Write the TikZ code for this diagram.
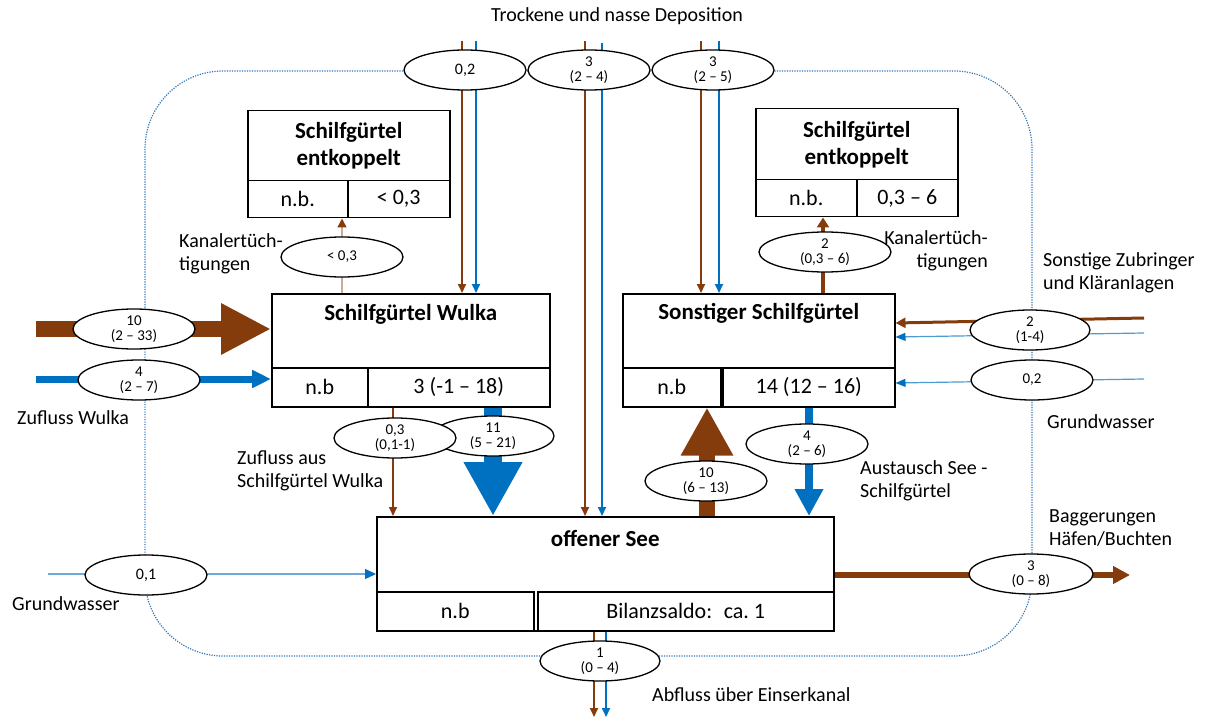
\documentclass[tikz,border=0pt]{standalone}
\usepackage{fontspec}
\setmainfont{Carlito}
\usetikzlibrary{arrows.meta,shapes.geometric,calc}
\definecolor{brownc}{RGB}{132,60,12}
\definecolor{bluec}{RGB}{0,112,192}
\definecolor{lightbluec}{RGB}{112,168,220}
\definecolor{tanc}{RGB}{205,170,145}
\definecolor{dotc}{RGB}{46,117,182}
\begin{document}
\begin{tikzpicture}[x=1pt,y=-1pt,
  box/.style={draw, line width=1.5pt, inner sep=0pt, anchor=north west},
  cell/.style={box, font=\fontsize{22}{26}\selectfont},
  ttl/.style={font=\bfseries\fontsize{23}{27}\selectfont, align=center, inner sep=0pt},
  ell/.style={draw, ellipse, fill=white, line width=1.3pt, minimum width=122pt,
    minimum height=40pt, inner sep=0pt, align=center, font=\fontsize{15}{15}\selectfont},
  lbl/.style={font=\fontsize{20}{23}\selectfont, inner sep=0pt},
  tipS/.style={-{Triangle[length=9pt,width=8pt]}},
  thinbr/.style={draw=brownc, line width=2pt, tipS},
  thinbl/.style={draw=bluec, line width=2pt, tipS},
  dotline/.style={draw=dotc, line width=1.2pt, dash pattern=on 1.2pt off 1.3pt}
]
\useasboundingbox (0,0) rectangle (1209,719);

% system boundary
\draw[dotline, rounded corners=78pt] (145,71) rectangle (1032,656);

% ---- boxes ----
% Schilfguertel Wulka
\node[box, minimum width=278pt, minimum height=113pt] (wulka) at (271,293) {};
\node[cell, minimum width=96pt, minimum height=39pt] (wulkaA) at (271,367) {n.b};
\node[cell, minimum width=182pt, minimum height=39pt] (wulkaB) at (367,367) {3 (-1 – 18)};
\node[ttl] (wulkaT) at ([yshift=-21pt]wulka.north) {Schilfgürtel Wulka};

% Sonstiger Schilfguertel
\node[box, minimum width=272pt, minimum height=113pt] (sonst) at (622,293) {};
\node[cell, minimum width=98pt, minimum height=39pt] (sonstA) at (622,367) {n.b};
\node[cell, minimum width=172pt, minimum height=39pt] (sonstB) at (722,367) {14 (12 – 16)};
\node[ttl] (sonstT) at ([yshift=-20pt]sonst.north) {Sonstiger Schilfgürtel};

% offener See
\node[box, minimum width=457pt, minimum height=114pt] (see) at (376,516) {};
\node[cell, minimum width=157pt, minimum height=39pt] (seeA) at (376,591) {n.b};
\node[cell, minimum width=296pt, minimum height=39pt] (seeB) at (537,591) {Bilanzsaldo:~ ca.~1};
\node[ttl] (seeT) at ([yshift=-22pt]see.north) {offener See};

% Schilfguertel entkoppelt (links)
\node[box, ttl, minimum width=202pt, minimum height=70pt] (entL) at (247,110) {Schilfgürtel\\entkoppelt};
\node[cell, minimum width=100pt, minimum height=37pt] (entLa) at (247,180) {n.b.};
\node[cell, minimum width=102pt, minimum height=37pt] (entLb) at (347,180) {< 0,3};

% Schilfguertel entkoppelt (rechts)
\node[box, ttl, minimum width=202pt, minimum height=71pt] (entR) at (755,108) {Schilfgürtel\\entkoppelt};
\node[cell, minimum width=101pt, minimum height=37pt] (entRa) at (755,179) {n.b.};
\node[cell, minimum width=101pt, minimum height=37pt] (entRb) at (856,179) {0,3 – 6};

% ---- flows ----
% deposition
\coordinate (d1b) at (462,41); \coordinate (d1u) at (476,41);
\coordinate (d2b) at (585,41); \coordinate (d2u) at (602,43);
\coordinate (d3b) at (701,41); \coordinate (d3u) at (719,41);
\draw[thinbr] (d1b) -- (d1b |- wulka.north);
\draw[thinbl] (d1u) -- (d1u |- wulka.north);
\draw[thinbr] (d2b) -- (d2b |- see.north);
\draw[thinbl] (d2u) -- (d2u |- see.north);
\draw[thinbr] (d3b) -- (d3b |- sonst.north);
\draw[thinbl] (d3u) -- (d3u |- sonst.north);

% Kanalertuechtigungen
\coordinate (xkL) at (342,250);
\draw[draw=tanc, line width=1.5pt, -{Triangle[length=9pt,width=9pt,color=brownc]}]
  (xkL |- wulka.north) -- (xkL |- entLa.south);
\coordinate (xkR) at (823,250);
\draw[draw=brownc, line width=3.5pt, -{Triangle[length=10pt,width=12pt]}]
  (xkR |- sonst.north) -- (xkR |- entRa.south);

% Zufluss Wulka
\coordinate (inBr) at (36,329);
\coordinate (inBl) at (36,379);
\draw[draw=brownc, line width=16pt, -{Triangle[length=50pt,width=48pt,color=brownc]}]
  (inBr) -- (inBr -| wulka.west);
\draw[draw=bluec, line width=7pt, -{Triangle[length=19pt,width=17pt,color=bluec]}]
  (inBl) -- (inBl -| wulka.west);

% Wulka -> See
\coordinate (xw1) at (393,450);
\coordinate (xw2) at (493,450);
\draw[draw=brownc, line width=1.5pt, -{Triangle[length=9pt,width=8pt]}]
  (xw1 |- wulka.south) -- (xw1 |- see.north);
\draw[draw=bluec, line width=18pt, -{Triangle[length=54pt,width=55pt,color=bluec]}]
  (xw2 |- wulka.south) -- (xw2 |- see.north);

% Austausch See - Schilfguertel
\coordinate (xs1) at (707,450);
\coordinate (xs2) at (809,450);
\draw[draw=brownc, line width=16pt, -{Triangle[length=48pt,width=49pt,color=brownc]}]
  (xs1 |- see.north) -- (xs1 |- sonst.south);
\draw[draw=bluec, line width=8pt, -{Triangle[length=27pt,width=27pt,color=bluec]}]
  (xs2 |- sonst.south) -- (xs2 |- see.north);

% Grundwasser links
\coordinate (gwL) at (48,574);
\draw[draw=lightbluec, line width=1.2pt, -{Triangle[length=11pt,width=10pt,color=bluec]}]
  (gwL) -- (gwL -| see.west);

% Sonstige Zubringer und Grundwasser rechts
\coordinate (zbB) at (1144,318);
\coordinate (zbU) at (1144,333);
\coordinate (gwR) at (1144,379);
\draw[draw=brownc, line width=3pt, -{Triangle[length=10pt,width=10pt]}]
  (zbB) -- ($(zbB -| sonst.east)+(0,5)$);
\draw[draw=bluec!70!white, line width=1.2pt, -{Triangle[length=10pt,width=8pt,color=bluec]}]
  (zbU) -- ($(zbU -| sonst.east)+(0,4)$);
\draw[draw=bluec!70!white, line width=1.2pt, -{Triangle[length=10pt,width=8pt,color=bluec]}]
  (gwR) -- ($(gwR -| sonst.east)+(0,4)$);

% Baggerungen
\coordinate (bag) at (1130,575);
\draw[draw=brownc, line width=6pt, -{Triangle[length=17pt,width=17pt,color=brownc]}]
  (bag -| see.east) -- (bag);

% Abfluss
\coordinate (ob) at (594,717);
\coordinate (ou) at (606,717);
\draw[thinbr] (ob |- see.south) -- (ob);
\draw[thinbl] (ou |- see.south) -- (ou);

% ---- flow values ----
\node[ell, font=\fontsize{16}{16}\selectfont] (e1) at (465,70) {0,2};
\node[ell] (e2) at (589,70) {3\\(2 – 4)};
\node[ell] (e3) at (713,70) {3\\(2 – 5)};
\node[ell] (ekL) at (342,257) {< 0,3};
\node[ell, minimum width=132pt] (ekR) at (825,252) {2\\(0,3 – 6)};
\node[ell] (ewBr) at (134,329) {10\\(2 – 33)};
\node[ell] (ewBl) at (139,380) {4\\(2 – 7)};
\node[ell, minimum width=120pt] (ezb) at (1030,330) {2\\(1-4)};
\node[ell] (egwR) at (1032,380) {0,2};
\node[ell] (e11) at (493,436) {11\\(5 – 21)};
\node[ell] (e03) at (395,438) {0,3\\(0,1-1)};
\node[ell] (e4) at (807,444) {4\\(2 – 6)};
\node[ell] (e10) at (706,481) {10\\(6 – 13)};
\node[ell, font=\fontsize{16}{16}\selectfont] (egwL) at (146,575) {0,1};
\node[ell, minimum width=124pt] (ebag) at (1031,574) {3\\(0 – 8)};
\node[ell, minimum width=120pt] (eabf) at (600,661) {1\\(0 – 4)};

% ---- labels ----
\node[lbl] (tDep) at (617,16) {Trockene und nasse Deposition};
\node[lbl, anchor=west, align=left] (tKL) at (179,254) {Kanalertüch-\\tigungen};
\node[lbl, anchor=east, align=right] (tKR) at (988,251) {Kanalertüch-\\tigungen};
\node[lbl, anchor=west, align=left] (tZB) at (1043,273) {Sonstige Zubringer\\und Kläranlagen};
\node[lbl, anchor=west] (tZW) at (17,418) {Zufluss Wulka};
\node[lbl, anchor=west] (tGR) at (1047,422) {Grundwasser};
\node[lbl, anchor=west, align=left] (tZS) at (237,471) {Zufluss aus\\Schilfgürtel Wulka};
\node[lbl, anchor=west, align=left] (tAS) at (860,481) {Austausch See -\\Schilfgürtel};
\node[lbl, anchor=west, align=left] (tBG) at (1049,528) {Baggerungen\\Häfen/Buchten};
\node[lbl, anchor=west] (tGL) at (12,604) {Grundwasser};
\node[lbl, anchor=west] (tAB) at (652,695) {Abfluss über Einserkanal};
\end{tikzpicture}
\end{document}
